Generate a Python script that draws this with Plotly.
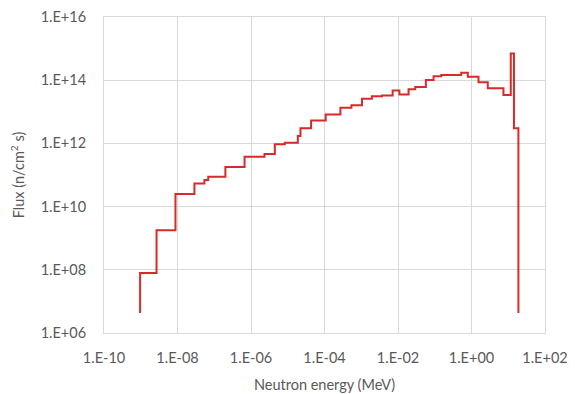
import plotly.graph_objects as go

# Group lower edges (MeV) and flux per group (n/cm2 s)
energy_mev = [9.6e-10, 9.6e-10, 2.69e-9, 8.8e-9, 2.89e-8, 5.41e-8, 6.86e-8, 2.01e-7,
              6.68e-7, 2.33e-6, 4.45e-6, 8.3e-6, 1.88e-5, 2.22e-5, 4.31e-5, 1.08e-4,
              2.71e-4, 5.40e-4, 1.05e-3, 1.95e-3, 3.66e-3, 7.15e-3, 1.09e-2, 1.94e-2,
              2.95e-2, 5.73e-2, 9.29e-2, 0.150, 0.525, 0.792, 1.55, 2.77, 7.40,
              11.7, 14.3, 18.9]
flux = [4.3e6, 7.9e7, 1.8e9, 2.5e10, 5.4e10, 7.0e10, 8.8e10, 1.8e11,
        3.8e11, 4.6e11, 9.4e11, 1.05e12, 1.7e12, 3.0e12, 5.3e12, 8.2e12,
        1.35e13, 1.6e13, 2.6e13, 3.1e13, 3.3e13, 4.7e13, 3.5e13, 5.2e13,
        6.1e13, 1.01e14, 1.33e14, 1.46e14, 1.73e14, 1.29e14, 8.6e13, 5.6e13, 3.4e13,
        7.0e14, 3.0e12, 4.3e6]

x_tickvals = [1e-10, 1e-8, 1e-6, 1e-4, 1e-2, 1e0, 1e2]
x_ticktext = ["1.E-10", "1.E-08", "1.E-06", "1.E-04", "1.E-02", "1.E+00", "1.E+02"]
y_tickvals = [1e6, 1e8, 1e10, 1e12, 1e14, 1e16]
y_ticktext = ["1.E+06", "1.E+08", "1.E+10", "1.E+12", "1.E+14", "1.E+16"]

fig = go.Figure()
fig.add_trace(go.Scatter(
    x=energy_mev, y=flux, mode="lines",
    line=dict(shape="hv", color="#d92a2a", width=2),
    showlegend=False, hoverinfo="skip",
))

font = dict(family="Lato, 'Open Sans', sans-serif", size=14.5, color="#595959")
# page body has an 8px default margin, so the figure is sized to fit the window
fig.update_layout(
    width=567, height=386,
    margin=dict(l=96, r=30, t=9, b=61),
    paper_bgcolor="white", plot_bgcolor="white",
    font=font,
    xaxis=dict(
        type="log", range=[-10, 2], automargin=False,
        tickvals=x_tickvals, ticktext=x_ticktext, tickfont=font,
        showgrid=True, gridcolor="#d9d9d9", gridwidth=1,
        showline=True, linecolor="#d9d9d9", mirror=True,
        zeroline=False, ticks="", ticklabelstandoff=12,
        title=dict(text="Neutron energy (MeV)", standoff=14, font=font),
    ),
    yaxis=dict(
        type="log", range=[6, 16], automargin=False,
        tickvals=y_tickvals, ticktext=y_ticktext, tickfont=font,
        showgrid=True, gridcolor="#d9d9d9", gridwidth=1,
        showline=True, linecolor="#d9d9d9", mirror=True,
        zeroline=False, ticks="", ticklabelstandoff=14,
        title=dict(text="Flux (n/cm<sup>2</sup> s)", standoff=16, font=font),
    ),
)

fig.write_html("out.html")
